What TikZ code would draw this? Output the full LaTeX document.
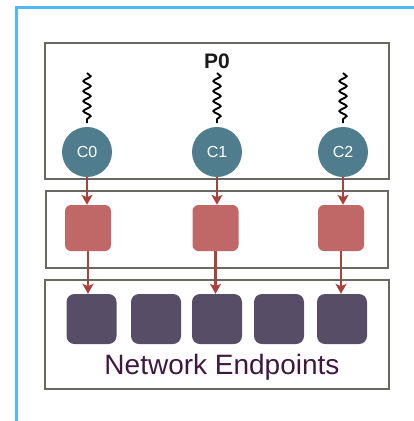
\documentclass[tikz,border=0pt]{standalone}
\usepackage{fontspec}
\setmainfont{Liberation Sans}
\usetikzlibrary{arrows.meta,decorations.pathmorphing}
\definecolor{frameblue}{RGB}{79,185,250}
\definecolor{boxgray}{RGB}{105,105,100}
\definecolor{coreteal}{RGB}{79,125,142}
\definecolor{queuered}{RGB}{192,103,103}
\definecolor{arrowred}{RGB}{170,65,58}
\definecolor{epurple}{RGB}{87,77,102}
\definecolor{labelpurple}{RGB}{62,24,64}
\begin{document}
\begin{tikzpicture}[x=1pt,y=-1pt,
  panel/.style={draw=boxgray,line width=1.8pt,inner sep=0pt,minimum width=344pt},
  core/.style={circle,fill=coreteal,minimum size=50pt,inner sep=0pt,text=white,
    font=\fontsize{16}{16}\selectfont},
  queue/.style={fill=queuered,rounded corners=6pt,minimum size=46pt,inner sep=0pt},
  endpoint/.style={fill=epurple,rounded corners=8pt,minimum size=50pt,inner sep=0pt},
  wave/.style={black,line width=1.9pt,decorate,
    decoration={snake,segment length=10pt,amplitude=3.6pt}},
  flow/.style={arrowred,line width=2.6pt,-{Stealth[length=10pt,width=11pt,inset=2.5pt]}}]
\useasboundingbox (0,0) rectangle (414,421);
% outer frame
\draw[frameblue,line width=3pt] (16,421) -- (16,7) -- (414,7);
% panels
\node[panel,minimum height=136pt] (proc) at (217,111) {};
\node[panel,minimum width=342pt,minimum height=77pt] (queues) at (217,229.5) {};
\node[panel,minimum height=109pt] (net) at (217,334.5) {};
\node[font=\bfseries\fontsize{21}{21}\selectfont,text=black!90] (p0) at (217,61) {P0};
% cores with their threads
\node[core] (c0) at (87,152) {C0};
\node[core] (c1) at (217,152) {C1};
\node[core] (c2) at (343,152) {C2};
\foreach \i/\x in {0/87,1/217,2/343}{
  \coordinate (t\i a) at (\x,73);
  \coordinate (t\i b) at (\x,123);
  \draw[wave] (t\i a) -- (t\i b);
}
% queues
\node[queue] (q0) at (88,228) {};
\node[queue] (q1) at (215.5,228) {};
\node[queue] (q2) at (341,228) {};
% endpoints
\node[endpoint] (e1) at (91.5,319) {};
\node[endpoint] (e2) at (156,319) {};
\node[endpoint] (e3) at (217,319) {};
\node[endpoint] (e4) at (279,319) {};
\node[endpoint] (e5) at (342,319) {};
\node[text=labelpurple,font=\fontsize{28}{28}\selectfont] (lbl) at (222,367) {Network Endpoints};
% connections
\draw[flow] (c0.south) -- (c0.south |- q0.north);
\draw[flow] (c1.south) -- (c1.south |- q1.north);
\draw[flow] (c2.south) -- (c2.south |- q2.north);
\draw[flow] (q0.south) -- (q0.south |- e1.north);
\draw[flow] (q1.south) -- (q1.south |- e3.north);
\draw[flow] (q2.south) -- (q2.south |- e5.north);
\end{tikzpicture}
\end{document}
